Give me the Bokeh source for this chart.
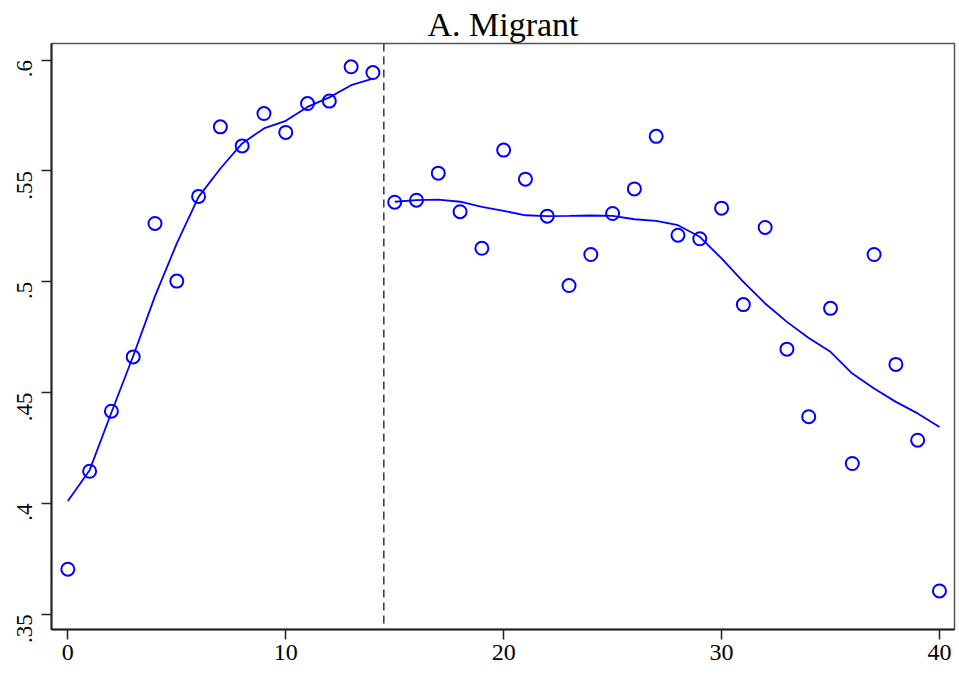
import math
from bokeh.plotting import figure
from bokeh.models import Span, FixedTicker, Range1d
from bokeh.embed import file_html
from bokeh.resources import INLINE

# data
x_points = [0, 1, 2, 3, 4, 5, 6, 7, 8, 9, 10, 11, 12, 13, 14,
            15, 16, 17, 18, 19, 20, 21, 22, 23, 24, 25, 26, 27, 28, 29,
            30, 31, 32, 33, 34, 35, 36, 37, 38, 39, 40]
y_points = [0.3703, 0.4145, 0.4416, 0.4661, 0.5263, 0.5003, 0.5385, 0.5699, 0.5613, 0.5759,
            0.5674, 0.5804, 0.5815, 0.5970, 0.5944,
            0.5359, 0.5368, 0.5490, 0.5316, 0.5151, 0.5594, 0.5463, 0.5296, 0.4983, 0.5123,
            0.5308, 0.5419, 0.5656, 0.5210, 0.5194, 0.5332, 0.4897, 0.5245, 0.4696, 0.4391,
            0.4880, 0.4180, 0.5123, 0.4627, 0.4285, 0.3605]

x_fit_pre = [0, 1, 2, 3, 4, 5, 6, 7, 8, 9, 10, 11, 12, 13, 14]
y_fit_pre = [0.4011, 0.4150, 0.4410, 0.4665, 0.4935, 0.5173, 0.5383, 0.5511, 0.5624, 0.5692,
             0.5726, 0.5789, 0.5832, 0.5887, 0.5917]

x_fit_post = [15, 16, 17, 18, 19, 20, 21, 22, 23, 24, 25, 26, 27, 28, 29,
              30, 31, 32, 33, 34, 35, 36, 37, 38, 39, 40]
y_fit_post = [0.5361, 0.5368, 0.5371, 0.5361, 0.5338, 0.5320, 0.5300, 0.5296, 0.5297, 0.5299,
              0.5297, 0.5282, 0.5275, 0.5255, 0.5203, 0.5105, 0.4999, 0.4902, 0.4819, 0.4746,
              0.4684, 0.4586, 0.4518, 0.4458, 0.4406, 0.4345]

cutoff = 14.5
x_ticks = [0, 10, 20, 30, 40]
y_ticks = [0.35, 0.4, 0.45, 0.5, 0.55, 0.6]
y_tick_labels = [".35", ".4", ".45", ".5", ".55", ".6"]
title_text = "A. Migrant"

BLUE = "#0000FF"
FONT = "Liberation Serif"

p = figure(width=959, height=675, output_backend="svg", toolbar_location=None,
           x_range=Range1d(-0.75, 40.69), y_range=Range1d(0.3431, 0.6075),
           min_border_left=51, min_border_right=5, min_border_top=43, min_border_bottom=46)

p.title.text = title_text
p.title.text_font = FONT
p.title.text_font_size = "34px"
p.title.text_font_style = "normal"
p.title.align = "center"
p.title.text_color = "black"
p.title.standoff = 2

p.xgrid.visible = False
p.ygrid.visible = False
p.background_fill_color = "white"
p.border_fill_color = "white"
p.outline_line_color = "#555555"
p.outline_line_width = 1.5

for ax in (p.xaxis[0], p.yaxis[0]):
    ax.axis_line_color = "#222222"
    ax.axis_line_width = 2
    ax.major_tick_line_color = "#222222"
    ax.major_tick_line_width = 1.5
    ax.major_tick_out = 10
    ax.major_tick_in = 0
    ax.minor_tick_line_color = None
    ax.major_label_text_font = FONT
    ax.major_label_text_color = "black"

p.xaxis.ticker = FixedTicker(ticks=x_ticks)
p.xaxis.major_label_text_font_size = "24px"
p.xaxis.major_label_standoff = 5

p.yaxis.ticker = FixedTicker(ticks=y_ticks)
p.yaxis.major_label_overrides = {t: l for t, l in zip(y_ticks, y_tick_labels)}
p.yaxis.major_label_orientation = math.pi / 2
p.yaxis.major_label_text_font_size = "23px"
p.yaxis.major_label_standoff = 17

p.add_layout(Span(location=cutoff, dimension="height", line_color="#444444",
                  line_width=1.6, line_dash="8 5"))

p.line(x_fit_pre, y_fit_pre, line_color=BLUE, line_width=1.8)
p.line(x_fit_post, y_fit_post, line_color=BLUE, line_width=1.8)
p.scatter(x_points, y_points, marker="circle", size=13, fill_color=None,
          line_color=BLUE, line_width=2)

open("out.html", "w").write(file_html(p, INLINE))
